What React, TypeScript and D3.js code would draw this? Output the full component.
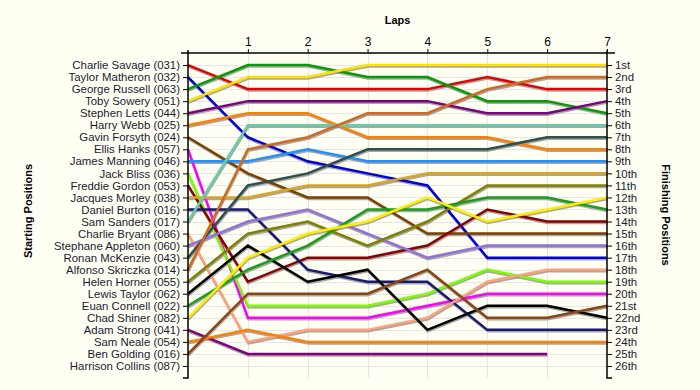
import { useEffect, useRef } from 'react';
import * as d3 from 'd3';

const DRIVERS = [
  "Charlie Savage (031)", "Taylor Matheron (032)", "George Russell (063)", "Toby Sowery (051)",
  "Stephen Letts (044)", "Harry Webb (025)", "Gavin Forsyth (024)", "Ellis Hanks (057)",
  "James Manning (046)", "Jack Bliss (036)", "Freddie Gordon (053)", "Jacques Morley (038)",
  "Daniel Burton (016)", "Sam Sanders (017)", "Charlie Bryant (086)", "Stephane Appleton (060)",
  "Ronan McKenzie (043)", "Alfonso Skriczka (014)", "Helen Horner (055)", "Lewis Taylor (062)",
  "Euan Connell (022)", "Chad Shiner (082)", "Adam Strong (041)", "Sam Neale (054)",
  "Ben Golding (016)", "Harrison Collins (087)",
];

// position at lap 0..7 (empty = no laps)
const POSITIONS: number[][] = [
  [1, 3, 3, 3, 3, 2, 3, 3],
  [2, 7, 9, 10, 11, 17, 17, 17],
  [3, 1, 1, 2, 2, 4, 4, 5],
  [4, 2, 2, 1, 1, 1, 1, 1],
  [5, 4, 4, 4, 4, 5, 5, 4],
  [6, 5, 5, 7, 7, 7, 8, 8],
  [7, 10, 12, 12, 15, 15, 15, 15],
  [8, 22, 22, 22, 21, 20, 20, 20],
  [9, 9, 8, 9, 9, 9, 9, 9],
  [10, 21, 21, 21, 20, 18, 19, 19],
  [11, 19, 17, 17, 16, 13, 14, 14],
  [12, 12, 11, 11, 10, 10, 10, 10],
  [13, 13, 18, 19, 19, 23, 23, 23],
  [14, 6, 6, 6, 6, 6, 6, 6],
  [15, 24, 23, 23, 22, 19, 18, 18],
  [16, 14, 13, 15, 17, 16, 16, 16],
  [17, 11, 10, 8, 8, 8, 7, 7],
  [18, 8, 7, 5, 5, 3, 2, 2],
  [19, 15, 14, 16, 14, 11, 11, 11],
  [20, 16, 19, 18, 23, 21, 21, 22],
  [21, 18, 16, 13, 13, 12, 12, 13],
  [22, 17, 15, 14, 12, 14, 13, 12],
  [23, 25, 25, 25, 25, 25, 25],
  [24, 23, 24, 24, 24, 24, 24, 24],
  [25, 20, 20, 20, 18, 22, 22, 21],
  [],
];

const COLORS = [
  "#e60000", "#0000dd", "#079a07", "#ffe000", "#7a007f", "#ff8000", "#7b3f00", "#ff00ff",
  "#1e90ff", "#7cfc00", "#8b0000", "#daa520", "#191970", "#66cdaa", "#ffa07a", "#9370db",
  "#2f4f4f", "#d2691e", "#808000", "#000000", "#1a9e1a", "#ffee00", "#800080", "#ff7f00",
  "#8b4513", "#888888",
];

const LAPS = [1, 2, 3, 4, 5, 6, 7];
const FINISH_LABELS = [
  "1st", "2nd", "3rd", "4th", "5th", "6th", "7th", "8th", "9th", "10th", "11th", "12th", "13th",
  "14th", "15th", "16th", "17th", "18th", "19th", "20th", "21st", "22nd", "23rd", "24th", "25th", "26th",
];

export default function App() {
  const svgRef = useRef<SVGSVGElement | null>(null);

  useEffect(() => {
    if (!svgRef.current) return;
    const svg = d3.select(svgRef.current);
    svg.selectAll("*").remove();
    const W = 700, H = 390;
    const left = 188, right = 607, top = 53, bottom = 378;
    const font = "'Liberation Sans', Arial, sans-serif";

    svg.attr("width", W).attr("height", H);
    svg.append("rect").attr("width", W).attr("height", H).attr("fill", "#fffff4");

    const x = d3.scaleLinear().domain([0, 7]).range([left, right]);
    const y = d3.scaleLinear().domain([0, 27]).range([top, bottom]);
    const rows = d3.range(1, 27);

    // grid
    const grid = svg.append("g").attr("stroke", "#e6e6e6").attr("stroke-width", 1);
    grid.selectAll("line.h").data(rows).join("line")
      .attr("x1", left).attr("x2", right)
      .attr("y1", d => Math.round(y(d)) + 0.5).attr("y2", d => Math.round(y(d)) + 0.5);
    grid.selectAll("line.v").data(LAPS.slice(0, 6)).join("line")
      .attr("x1", d => Math.round(x(d)) + 0.5).attr("x2", d => Math.round(x(d)) + 0.5)
      .attr("y1", top).attr("y2", bottom);

    // lines, with a grey drop shadow underneath
    const line = d3.line<number>().x((_, i) => x(i)).y(d => y(d));
    const series = POSITIONS.map((p, i) => ({ p, c: COLORS[i] })).filter(s => s.p.length > 1);
    svg.append("g").selectAll("path").data(series).join("path")
      .attr("d", d => line(d.p))
      .attr("transform", "translate(0.5,1.5)")
      .attr("fill", "none").attr("stroke", "#8a8a8a").attr("stroke-opacity", 0.75).attr("stroke-width", 2.5);
    svg.append("g").selectAll("path").data(series).join("path")
      .attr("d", d => line(d.p))
      .attr("fill", "none").attr("stroke", d => d.c).attr("stroke-width", 2.5);

    // axes
    const axisStyle = (g: any) => {
      g.style("font-family", font).style("font-size", "11.4px");
      g.select(".domain").attr("stroke", "#000").attr("stroke-width", 1.5);
      g.selectAll(".tick line").attr("stroke", "#000");
      g.selectAll(".tick text").attr("fill", "#1a1a30");
    };
    svg.append("g").attr("transform", `translate(${left},0)`)
      .call(d3.axisLeft(y).tickValues(rows).tickSize(5).tickSizeOuter(5).tickFormat((d: any) => DRIVERS[d - 1]))
      .call(axisStyle)
      .call(g => g.select(".domain").attr("d", `M-5,${bottom}H0V${top - 3}`));
    svg.append("g").attr("transform", `translate(${right},0)`)
      .call(d3.axisRight(y).tickValues(rows).tickSize(5).tickSizeOuter(5).tickFormat((d: any) => FINISH_LABELS[d - 1]))
      .call(axisStyle)
      .call(g => g.select(".domain").attr("d", `M5,${bottom}H0V${top - 3}`))
      .call(g => g.selectAll(".tick text").attr("x", 8));
    svg.append("g").attr("transform", `translate(0,${top})`)
      .call(d3.axisTop(x).tickValues(LAPS).tickSize(4).tickSizeOuter(0).tickFormat(d3.format("d")))
      .call(axisStyle)
      .call(g => g.select(".domain").attr("d", `M${left - 7},0H${right + 8}`))
      .call(g => g.selectAll(".tick text").style("font-size", "12px").attr("fill", "#000"));

    // titles
    svg.append("text").attr("x", (left + right) / 2).attr("y", 24).attr("text-anchor", "middle")
      .style("font-family", font).style("font-size", "11px").style("font-weight", "bold").text("Laps");
    svg.append("text").attr("transform", "translate(32,211) rotate(-90)").attr("text-anchor", "middle")
      .style("font-family", font).style("font-size", "11px").style("font-weight", "bold").text("Starting Positions");
    svg.append("text").attr("transform", "translate(662,215) rotate(90)").attr("text-anchor", "middle")
      .style("font-family", font).style("font-size", "11px").style("font-weight", "bold").text("Finishing Positions");
  }, []);

  return (
    <div style={{ position: "absolute", left: 0, top: 0 }}>
      <svg ref={svgRef} style={{ display: "block" }} />
    </div>
  );
}
